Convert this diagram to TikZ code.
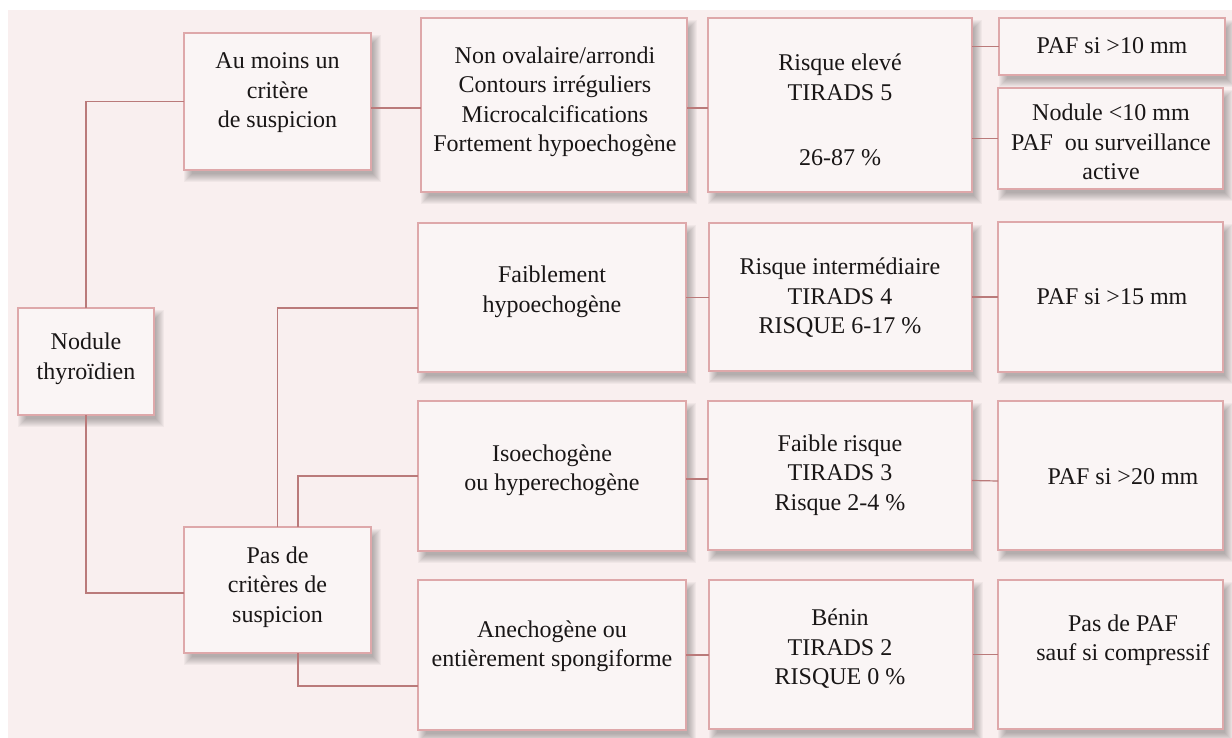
\documentclass[tikz,border=0pt]{standalone}
\usepackage{fontspec}
\setmainfont{Liberation Serif}
\usetikzlibrary{calc}
\pgfdeclarelayer{bgl}
\pgfdeclarelayer{shl}
\pgfsetlayers{bgl,shl,main}
\definecolor{bgpink}{RGB}{249,239,239}
\definecolor{boxfill}{RGB}{250,245,245}
\definecolor{boxline}{RGB}{222,168,170}
\definecolor{conn}{RGB}{186,122,122}
\definecolor{txt}{RGB}{25,22,22}
\newcommand\boxshadow[1]{\foreach \k in {0,...,8}{\fill[black!80,opacity=0.045] ([shift={(\k,2+\k)}]#1.north west) rectangle ([shift={(10-\k,12-\k)}]#1.south east);}}
\begin{document}
\begin{tikzpicture}[x=1pt,y=-1pt,
  bx/.style={draw=boxline, line width=1.3pt, fill=boxfill, inner sep=0pt, outer sep=0pt},
  tx/.style={align=center, font=\fontsize{24}{29.5}\selectfont, text=txt, inner sep=0pt},
  cn/.style={draw=conn, line width=1.2pt}]
\useasboundingbox (0,0) rectangle (1232,738);
\begin{pgfonlayer}{bgl}
\fill[bgpink] (8,10) rectangle (1232,738);
\end{pgfonlayer}
% boxes
\node[bx, minimum width=136pt, minimum height=107pt] (nod) at (86,361.5) {};
\node[bx, minimum width=187pt, minimum height=137pt] (au) at (277.5,101.5) {};
\node[bx, minimum width=187pt, minimum height=126pt] (pas) at (277.5,590) {};
\node[bx, minimum width=266pt, minimum height=174pt] (b1) at (554,105) {};
\node[bx, minimum width=264pt, minimum height=174pt] (r1) at (840,105) {};
\node[bx, minimum width=226pt, minimum height=57pt] (p1) at (1112,46.5) {};
\node[bx, minimum width=225pt, minimum height=101pt] (p2) at (1110.5,138.5) {};
\node[bx, minimum width=268pt, minimum height=149pt] (b2) at (552,297.5) {};
\node[bx, minimum width=263pt, minimum height=148pt] (r2) at (840.5,297) {};
\node[bx, minimum width=225pt, minimum height=150pt] (p3) at (1110.5,297) {};
\node[bx, minimum width=268pt, minimum height=150pt] (b3) at (552,476) {};
\node[bx, minimum width=264pt, minimum height=149pt] (r3) at (840,475.5) {};
\node[bx, minimum width=225pt, minimum height=149pt] (p4) at (1110.5,475.5) {};
\node[bx, minimum width=268pt, minimum height=150pt] (b4) at (552,655) {};
\node[bx, minimum width=264pt, minimum height=149pt] (r4) at (841,654.5) {};
\node[bx, minimum width=225pt, minimum height=149pt] (p5) at (1110.5,654.5) {};
% shadows
\begin{pgfonlayer}{shl}
\foreach \n in {nod,au,pas,b1,r1,p1,p2,b2,r2,p3,b3,r3,p4,b4,r4,p5}{\boxshadow{\n}}
\end{pgfonlayer}
% texts
\node[tx] (tnod) at (86,359) {Nodule\\thyroïdien};
\node[tx] (tau) at (277.5,93) {Au moins un\\critère\\de suspicion};
\node[tx] (tpas) at (277.5,587) {Pas de\\critères de\\suspicion};
\node[tx] (tb1) at (555,102) {Non ovalaire/arrondi\\Contours irréguliers\\Microcalcifications\\Fortement hypoechogène};
\node[tx] (tr1) at (840,110) {Risque elevé\\TIRADS 5\\[35.5pt]26-87 \%};
\node[tx] (tp1) at (1112,46) {PAF si >10 mm};
\node[tx] (tp2) at (1111,142) {Nodule <10 mm\\PAF\ \ ou surveillance\\active};
\node[tx] (tb2) at (552,292) {Faiblement\\hypoechogène};
\node[tx] (tr2) at (840,298) {Risque intermédiaire\\TIRADS 4\\RISQUE 6-17 \%};
\node[tx] (tp3) at (1112,297) {PAF si >15 mm};
\node[tx] (tb3) at (552,470) {Isoechogène\\ou hyperechogène};
\node[tx] (tr3) at (840,475) {Faible risque\\TIRADS 3\\Risque 2-4 \%};
\node[tx] (tp4) at (1123,477) {PAF si >20 mm};
\node[tx] (tb4) at (552,646) {Anechogène ou\\entièrement spongiforme};
\node[tx] (tr4) at (840,649) {Bénin\\TIRADS 2\\RISQUE 0 \%};
\node[tx] (tp5) at (1123,640) {Pas de PAF\\sauf si compressif};
% connectors
\draw[cn] (nod.north) |- (au.west);
\draw[cn] (nod.south) |- ([shift={(0,3)}]pas.west);
\draw[cn] ([shift={(0,6.5)}]au.east) -- ([shift={(0,3)}]b1.west);
\draw[cn] ([shift={(0,3)}]b1.east) -- ([shift={(0,3)}]r1.west);
\draw[cn] (r1.east |- p1.west) -- (p1.west);
\draw[cn] (r1.east |- p2.west) -- (p2.west);
\draw[cn] (pas.north) |- ([shift={(0,10.5)}]b2.west);
\draw[cn] ([shift={(20.5,0)}]pas.north) |- (b3.west);
\draw[cn] ([shift={(20.5,0)}]pas.south) |- ([shift={(0,31)}]b4.west);
\draw[cn] (b2.east) -- (r2.west |- b2.east);
\draw[cn] (r2.east) -- (p3.west);
\draw[cn] ([shift={(0,3)}]b3.east) -- ([shift={(0,3.5)}]r3.west);
\draw[cn] ([shift={(0,5)}]r3.east) -- ([shift={(0,5.5)}]p4.west);
\draw[cn] (b4.east) -- (r4.west |- b4.east);
\draw[cn] (r4.east) -- (p5.west);
\end{tikzpicture}
\end{document}
